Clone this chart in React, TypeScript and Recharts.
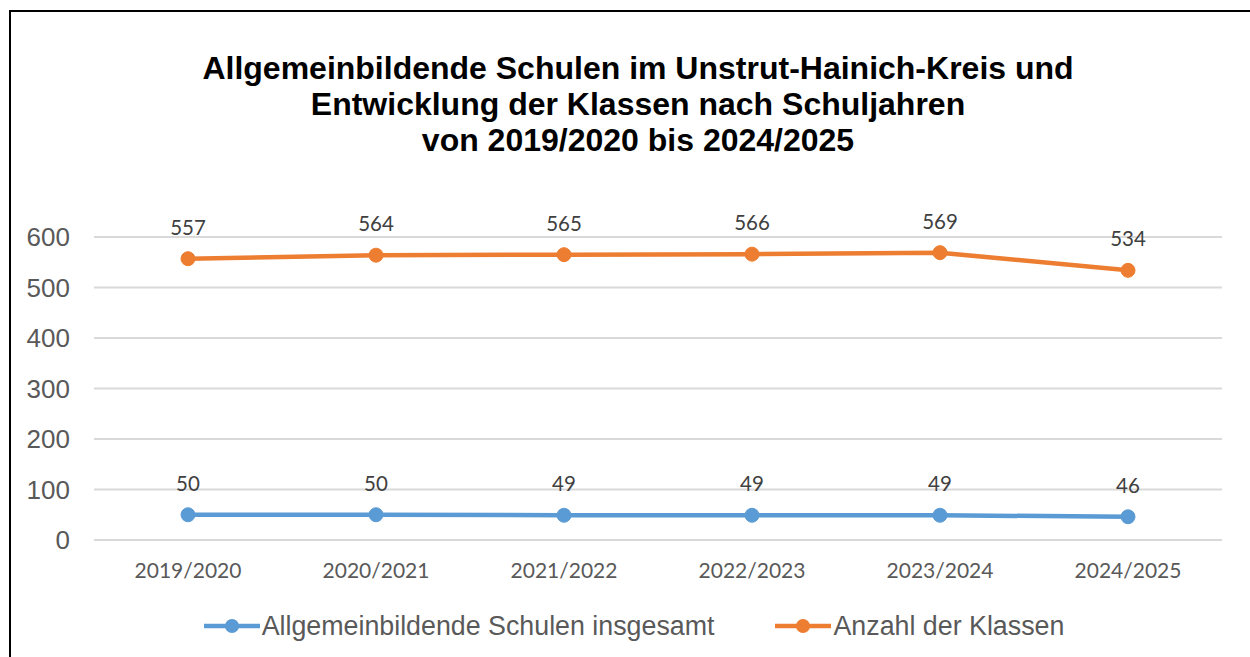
import React from "react";
import { LineChart, Line, XAxis, YAxis, CartesianGrid, LabelList } from "recharts";

const categories = ["2019/2020", "2020/2021", "2021/2022", "2022/2023", "2023/2024", "2024/2025"];
const schulen = [50, 50, 49, 49, 49, 46];
const klassen = [557, 564, 565, 566, 569, 534];
const yTicks = [0, 100, 200, 300, 400, 500, 600];
const seriesNames = ["Allgemeinbildende Schulen insgesamt", "Anzahl der Klassen"];
const seriesColors = ["#5b9bd5", "#ed7d31"];
const titleLines = [
  "Allgemeinbildende Schulen im Unstrut-Hainich-Kreis und",
  "Entwicklung der Klassen nach Schuljahren",
  "von 2019/2020 bis 2024/2025",
];

const data = categories.map((c, i) => ({ cat: c, schulen: schulen[i], klassen: klassen[i] }));

const labelFont = "Lato, 'Open Sans', sans-serif";
const arial = "'Liberation Sans', Arial, sans-serif";

export default function App() {
  return (
    <div style={{ position: "absolute", left: 0, top: 0, width: 1250, height: 657, background: "#fff", overflow: "hidden" }}>
      <div
        style={{
          position: "absolute",
          left: 9,
          top: 10,
          width: 1300,
          height: 700,
          borderTop: "2.5px solid #000",
          borderLeft: "2.5px solid #000",
        }}
      />
      <div
        style={{
          position: "absolute",
          left: 13,
          top: 50,
          width: 1250,
          textAlign: "center",
          fontFamily: arial,
          fontWeight: "bold",
          fontSize: 32,
          lineHeight: "36px",
          color: "#000",
        }}
      >
        {titleLines.map((t) => (
          <div key={t}>{t}</div>
        ))}
      </div>
      <div style={{ position: "absolute", left: 0, top: 0 }}>
        <LineChart width={1250} height={657} data={data} margin={{ top: 237, right: 28, bottom: 87, left: 14 }}>
          <CartesianGrid horizontal vertical={false} stroke="#d9d9d9" strokeWidth={2} />
          <XAxis
            dataKey="cat"
            axisLine={false}
            tickLine={false}
            tickSize={0}
            tickMargin={23}
            height={30}
            padding={{ left: 94, right: 94 }}
            interval={0}
            tick={{ fill: "#595959", fontSize: 21, fontFamily: labelFont }}
          />
          <YAxis
            domain={[0, 600]}
            ticks={yTicks}
            width={80}
            axisLine={false}
            tickLine={false}
            tickSize={0}
            tickMargin={24}
            tick={{ fill: "#595959", fontSize: 26, fontFamily: arial }}
          />
          <Line
            type="linear"
            dataKey="schulen"
            name={seriesNames[0]}
            stroke={seriesColors[0]}
            strokeWidth={4.5}
            dot={{ r: 7, fill: seriesColors[0], stroke: seriesColors[0], strokeWidth: 1 }}
            activeDot={false}
            isAnimationActive={false}
          >
            <LabelList dataKey="schulen" position="top" offset={24} fill="#404040" fontSize={20.5} fontFamily={labelFont} />
          </Line>
          <Line
            type="linear"
            dataKey="klassen"
            name={seriesNames[1]}
            stroke={seriesColors[1]}
            strokeWidth={4.5}
            dot={{ r: 7, fill: seriesColors[1], stroke: seriesColors[1], strokeWidth: 1 }}
            activeDot={false}
            isAnimationActive={false}
          >
            <LabelList dataKey="klassen" position="top" offset={24} fill="#404040" fontSize={20.5} fontFamily={labelFont} />
          </Line>
        </LineChart>
      </div>
      <div
        style={{
          position: "absolute",
          left: 0,
          top: 611,
          width: 1267,
          display: "flex",
          justifyContent: "center",
          gap: 60,
          fontFamily: arial,
          fontSize: 26.8,
          lineHeight: "30px",
          color: "#595959",
        }}
      >
        {seriesNames.map((n, i) => (
          <div key={n} style={{ display: "flex", alignItems: "center" }}>
            <svg width={59} height={30} style={{ display: "block" }}>
              <line x1={1} y1={15} x2={57} y2={15} stroke={seriesColors[i]} strokeWidth={4.5} />
              <circle cx={29} cy={15} r={7} fill={seriesColors[i]} />
            </svg>
            <span>{n}</span>
          </div>
        ))}
      </div>
    </div>
  );
}
